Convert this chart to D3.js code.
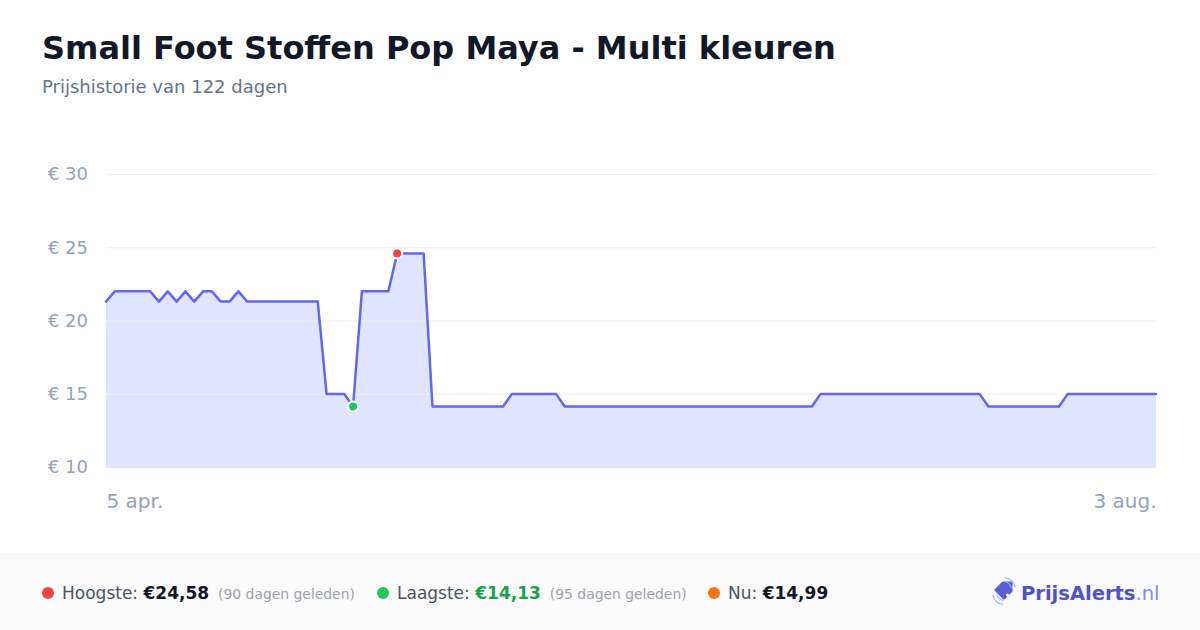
<!DOCTYPE html>
<html>
<head>
<meta charset="utf-8">
<script src="https://cdn.jsdelivr.net/npm/d3@7"></script>
<style>
  html, body { margin: 0; padding: 0; background: #fff; }
  svg { display: block; font-family: 'DejaVu Sans', sans-serif; }
</style>
</head>
<body>
<div id="chart"></div>
<script>
// Chart data
const title = 'Small Foot Stoffen Pop Maya - Multi kleuren';
const subtitle = 'Prijshistorie van 122 dagen';

const prices = [
  21.29, 21.99, 21.99, 21.99, 21.99, 21.99, 21.29, 21.99, 21.29, 21.99,
  21.29, 21.99, 21.99, 21.29, 21.29, 21.99, 21.29, 21.29, 21.29, 21.29,
  21.29, 21.29, 21.29, 21.29, 21.29, 14.99, 14.99, 14.99, 14.13, 21.99,
  21.99, 21.99, 21.99, 24.58, 24.58, 24.58, 24.58, 14.13, 14.13, 14.13,
  14.13, 14.13, 14.13, 14.13, 14.13, 14.13, 14.99, 14.99, 14.99, 14.99,
  14.99, 14.99, 14.13, 14.13, 14.13, 14.13, 14.13, 14.13, 14.13, 14.13,
  14.13, 14.13, 14.13, 14.13, 14.13, 14.13, 14.13, 14.13, 14.13, 14.13,
  14.13, 14.13, 14.13, 14.13, 14.13, 14.13, 14.13, 14.13, 14.13, 14.13,
  14.13, 14.99, 14.99, 14.99, 14.99, 14.99, 14.99, 14.99, 14.99, 14.99,
  14.99, 14.99, 14.99, 14.99, 14.99, 14.99, 14.99, 14.99, 14.99, 14.99,
  14.13, 14.13, 14.13, 14.13, 14.13, 14.13, 14.13, 14.13, 14.13, 14.99,
  14.99, 14.99, 14.99, 14.99, 14.99, 14.99, 14.99, 14.99, 14.99, 14.99
];

const yTicks = [10, 15, 20, 25, 30];
const xTickLabels = ['5 apr.', '3 aug.'];

const statLabels = ['Hoogste:', 'Laagste:', 'Nu:'];
const statValues = ['€24,58', '€14,13', '€14,99'];
const statNotes = ['(90 dagen geleden)', '(95 dagen geleden)', ''];

///////// Initialization //////////
const W = 1200, H = 630;
const margin = { top: 174, right: 44, bottom: 163, left: 106 };
const width = W - margin.left - margin.right;
const height = H - margin.top - margin.bottom;

const svg = d3.select('#chart').append('svg')
  .attr('width', W)
  .attr('height', H);

// Header
svg.append('text')
  .attr('x', 42).attr('y', 59)
  .attr('font-size', 32).attr('font-weight', 'bold')
  .attr('fill', '#111827')
  .text(title);

svg.append('text')
  .attr('x', 42).attr('y', 93)
  .attr('font-size', 18).attr('fill', '#64748b')
  .text(subtitle);

const group = svg.append('g')
  .attr('transform', 'translate(' + margin.left + ',' + margin.top + ')');

// Scales
const xScale = d3.scaleLinear().domain([0, prices.length - 1]).range([0, width]);
const yScale = d3.scaleLinear().domain([10, 30]).range([height, 0]);

// Grid + y labels
const yAxis = d3.axisLeft(yScale)
  .tickValues(yTicks)
  .tickSize(-width)
  .tickPadding(18)
  .tickFormat(d => '€ ' + d);

const yAxisGroup = group.append('g').attr('class', 'y-axis').call(yAxis);
yAxisGroup.select('.domain').remove();
yAxisGroup.selectAll('.tick line')
  .attr('stroke', d => d === 10 ? '#e2e8f0' : '#efeff2')
  .attr('stroke-width', d => d === 10 ? 1.5 : 1);
yAxisGroup.selectAll('.tick text')
  .attr('font-size', 18)
  .attr('fill', '#94a3b8')
  .attr('font-family', 'DejaVu Sans, sans-serif');

// Area + line
const area = d3.area()
  .x((d, i) => xScale(i))
  .y0(yScale(10))
  .y1(d => yScale(d));

const line = d3.line()
  .x((d, i) => xScale(i))
  .y(d => yScale(d));

group.insert('path', '.y-axis')
  .datum(prices)
  .attr('fill', '#e0e5ff')
  .attr('d', area);

group.append('path')
  .datum(prices)
  .attr('fill', 'none')
  .attr('stroke', '#6366f1')
  .attr('stroke-width', 2.5)
  .attr('stroke-linejoin', 'round')
  .attr('stroke-linecap', 'round')
  .attr('d', line);

// x labels (first and last)
const xAxis = d3.axisBottom(xScale)
  .tickValues([0, prices.length - 1])
  .tickSize(0)
  .tickPadding(27)
  .tickFormat((d, i) => xTickLabels[i]);

const xAxisGroup = group.append('g')
  .attr('transform', 'translate(0,' + height + ')')
  .call(xAxis);
xAxisGroup.select('.domain').remove();
xAxisGroup.selectAll('.tick text')
  .attr('font-size', 20)
  .attr('fill', '#94a3b8')
  .attr('font-family', 'DejaVu Sans, sans-serif')
  .attr('text-anchor', (d, i) => i === 0 ? 'start' : 'end');

// Min / max markers
const maxI = d3.maxIndex(prices);
const minI = d3.minIndex(prices);
[[maxI, '#ef4444'], [minI, '#22c55e']].forEach(([i, c]) => {
  group.append('circle')
    .attr('cx', xScale(i))
    .attr('cy', yScale(prices[i]))
    .attr('r', 5)
    .attr('fill', c)
    .attr('stroke', '#fff')
    .attr('stroke-width', 2);
});

////// Footer /////
svg.append('rect')
  .attr('x', 0).attr('y', 554)
  .attr('width', W).attr('height', H - 554)
  .attr('fill', '#fafafa');
svg.append('line')
  .attr('x1', 0).attr('x2', W)
  .attr('y1', 554.5).attr('y2', 554.5)
  .attr('stroke', '#f0f0f0');

const dotColors = ['#ef4444', '#22c55e', '#f97316'];
const valueColors = ['#111827', '#16a34a', '#111827'];
const statX = [48, 383, 714];

statLabels.forEach((label, i) => {
  const g = svg.append('g').attr('transform', 'translate(' + statX[i] + ',599)');
  g.append('circle').attr('cx', 0).attr('cy', -6).attr('r', 6).attr('fill', dotColors[i]);
  const t = g.append('text').attr('x', 14).attr('font-size', 17);
  t.append('tspan').attr('fill', '#4b5563').text(label + ' ');
  t.append('tspan').attr('fill', valueColors[i]).attr('font-weight', 'bold').text(statValues[i]);
  if (statNotes[i]) {
    t.append('tspan').attr('dx', 9).attr('font-size', 13.9).attr('fill', '#9ca3af').text(statNotes[i]);
  }
});

// Logo
const logo = svg.append('g').attr('transform', 'translate(1004,592)');
logo.append('path')
  .attr('d', 'M-8,-2 L-1,-9 L7,-9 L7,-1 L0,6 Z')
  .attr('fill', '#5b5fd6')
  .attr('stroke', '#5b5fd6')
  .attr('stroke-width', 3)
  .attr('stroke-linejoin', 'round');
logo.append('circle').attr('cx', 3.5).attr('cy', 3).attr('r', 1.6).attr('fill', '#fff');
[8, 12].forEach(r => {
  logo.append('path')
    .attr('d', d3.arc()({ innerRadius: r, outerRadius: r + 1.2, startAngle: 0.15, endAngle: 1.35 }))
    .attr('transform', 'translate(-1,-2)')
    .attr('fill', '#a5b4fc');
  logo.append('path')
    .attr('d', d3.arc()({ innerRadius: r, outerRadius: r + 1.2, startAngle: Math.PI + 0.15, endAngle: Math.PI + 1.35 }))
    .attr('transform', 'translate(1,0)')
    .attr('fill', '#a5b4fc');
});
const logoText = svg.append('text')
  .attr('x', 1021).attr('y', 600)
  .attr('font-size', 19.5).attr('font-weight', 'bold');
logoText.append('tspan').attr('fill', '#4f52c8').text('PrijsAlerts');
logoText.append('tspan').attr('fill', '#818cf8').attr('font-weight', 'normal').text('.nl');
</script>
</body>
</html>
